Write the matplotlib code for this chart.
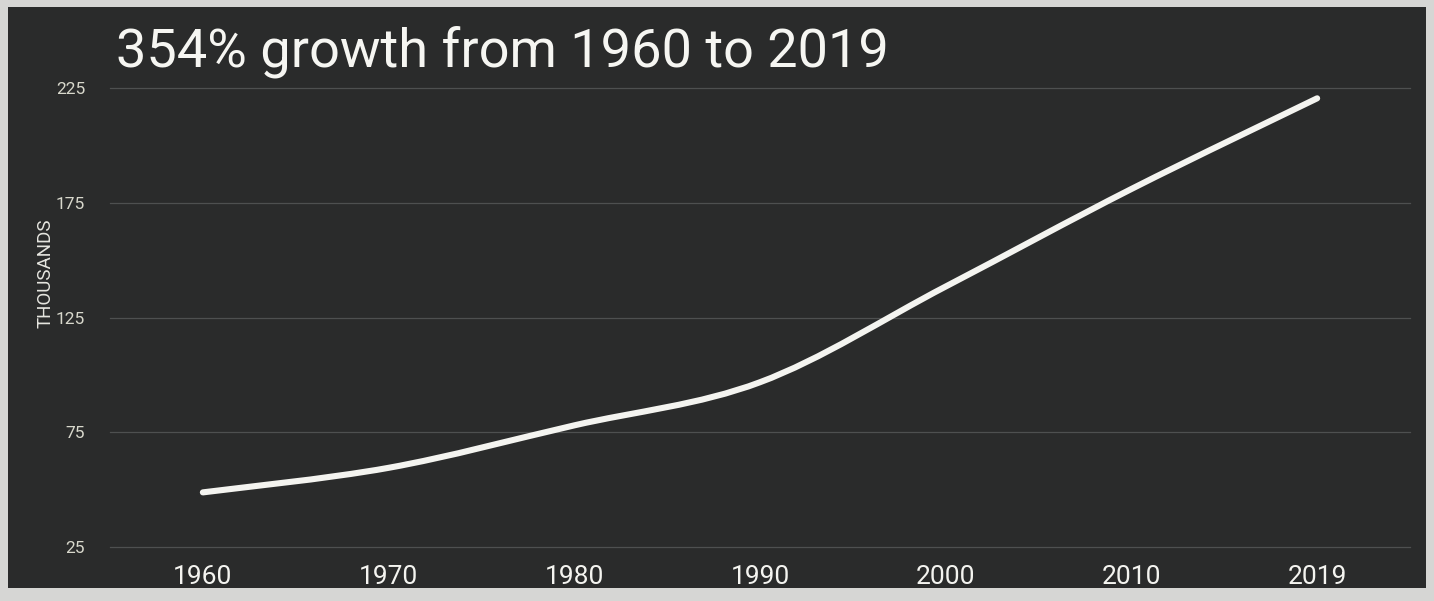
import matplotlib
matplotlib.use("Agg")
import matplotlib.pyplot as plt
from matplotlib.path import Path
from matplotlib.patches import PathPatch, Rectangle

# values (thousands)
years = ["1960", "1970", "1980", "1990", "2000", "2010", "2019"]
values = [48.8, 59.5, 78.0, 96.8, 138.5, 181.0, 220.5]
yticks = [25, 75, 125, 175, 225]
title = "354% growth from 1960 to 2019"
ylabel = "THOUSANDS"

FONT = ["Roboto", "DejaVu Sans"]
W, H = 1434, 601

fig = plt.figure(figsize=(W / 100, H / 100), dpi=100, facecolor="#d6d6d4")

# dark slide panel (behind everything)
fig.patches.append(Rectangle((8 / W, 1 - 588 / H), (1426 - 8) / W, (588 - 7) / H,
                             transform=fig.transFigure, facecolor="#2a2b2b",
                             edgecolor="none", zorder=-10))

# axes box in pixels: left 110, right 1410, top 88, bottom 547
ax = fig.add_axes([110 / W, 1 - 547 / H, 1300 / W, (547 - 88) / H])
ax.set_facecolor("none")
ax.set_xlim(-0.5, 6.5)
ax.set_ylim(25, 225)

xs = list(range(len(years)))

# smooth line via Catmull-Rom -> cubic bezier segments
verts = [(xs[0], values[0])]
codes = [Path.MOVETO]
n = len(xs)
for i in range(n - 1):
    p0 = (xs[max(i - 1, 0)], values[max(i - 1, 0)])
    p1 = (xs[i], values[i])
    p2 = (xs[i + 1], values[i + 1])
    p3 = (xs[min(i + 2, n - 1)], values[min(i + 2, n - 1)])
    c1 = (p1[0] + (p2[0] - p0[0]) / 6, p1[1] + (p2[1] - p0[1]) / 6)
    c2 = (p2[0] - (p3[0] - p1[0]) / 6, p2[1] - (p3[1] - p1[1]) / 6)
    verts += [c1, c2, p2]
    codes += [Path.CURVE4] * 3
ax.add_patch(PathPatch(Path(verts, codes), facecolor="none", edgecolor="#f4f4f0",
                       linewidth=4.4, capstyle="round", joinstyle="round",
                       clip_on=False, zorder=3))

ax.set_yticks(yticks)
ax.set_xticks(xs)
ax.set_xticklabels(years)
ax.grid(axis="y", color="#4e5050", linewidth=0.9, clip_on=False)
ax.grid(axis="x", visible=False)
for s in ax.spines.values():
    s.set_visible(False)
ax.tick_params(axis="y", length=0, pad=18, labelsize=12.5, labelcolor="#d8d8cc")
ax.tick_params(axis="x", length=0, pad=13, labelsize=19, labelcolor="#f4f4f0")
for lab in ax.get_yticklabels() + ax.get_xticklabels():
    lab.set_family(FONT)

fig.text(46 / W, 1 - 273 / H, ylabel, rotation=90, ha="center", va="center",
         fontsize=13.5, color="#e6e6e0", family=FONT)
fig.text(116 / W, 1 - 52 / H, title, ha="left", va="center",
         fontsize=39, color="#f6f6f2", family=FONT)

fig.savefig("out.png", dpi=100, facecolor=fig.get_facecolor())
